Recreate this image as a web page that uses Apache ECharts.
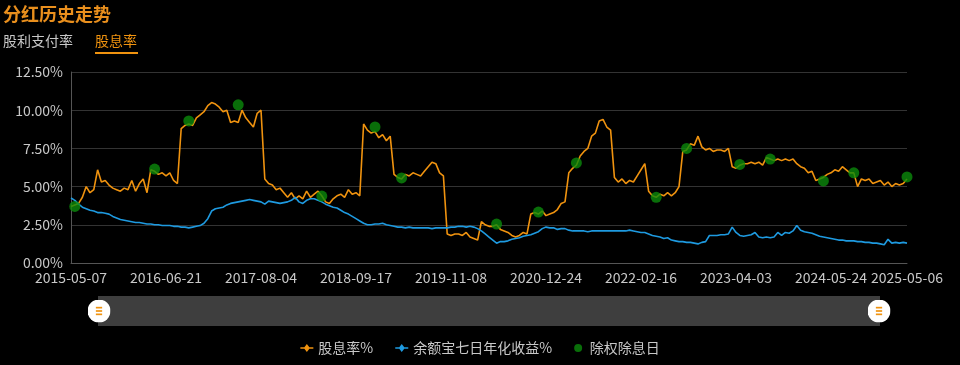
<!DOCTYPE html>
<html>
<head>
<meta charset="utf-8">
<script src="https://cdn.jsdelivr.net/npm/echarts@6/dist/echarts.min.js"></script>
<style>
html,body{margin:0;padding:0;background:#000;}
#chart{width:960px;height:365px;}
</style>
</head>
<body>
<div id="chart"></div>
<script>
// x-axis tick labels (one every 25 sampled points; last = final point)
const tickLabels = ['2015-05-07','2016-06-21','2017-08-04','2018-09-17','2019-11-08','2020-12-24','2022-02-16','2023-04-03','2024-05-24','2025-05-06'];

// 股息率% sampled (221 points)
const dividendYield = [
3.7,3.8,3.9,4.3,5.0,4.6,4.8,6.1,5.3,5.4,
5.1,4.9,4.8,4.7,4.9,4.8,5.4,4.7,5.2,5.5,
4.6,6.1,6.0,5.8,5.9,5.7,5.9,5.4,5.2,8.8,
9.0,9.1,9.0,9.5,9.7,9.9,10.3,10.5,10.4,10.2,
9.9,10.0,9.2,9.3,9.2,10.0,9.5,9.2,8.9,9.8,
10.0,5.5,5.2,5.1,4.8,4.9,4.6,4.3,4.6,4.2,
4.4,4.2,4.7,4.3,4.5,4.7,4.4,4.0,3.9,4.2,
4.4,4.5,4.3,4.8,4.5,4.6,4.4,9.1,8.7,8.5,
8.6,8.2,8.4,8.0,8.3,5.8,5.6,5.5,5.8,5.7,
5.9,5.8,5.7,6.0,6.3,6.6,6.5,5.9,5.7,1.9,
1.8,1.9,1.9,1.8,2.0,1.7,1.6,1.5,2.7,2.5,
2.4,2.4,2.5,2.2,2.1,2.0,1.8,1.7,1.8,2.0,
1.9,3.2,3.3,3.2,3.4,3.1,3.2,3.3,3.5,3.9,
4.0,5.9,6.2,6.4,7.0,7.3,7.5,8.3,8.5,9.3,
9.4,8.9,8.7,5.6,5.3,5.5,5.2,5.4,5.3,5.7,
6.1,6.5,4.7,4.4,4.3,4.5,4.4,4.6,4.4,4.6,
5.0,7.3,7.4,7.8,7.7,8.3,7.6,7.4,7.5,7.3,
7.4,7.4,7.3,7.5,6.3,6.2,6.4,6.5,6.5,6.6,
6.5,6.6,6.4,6.9,6.8,6.7,6.8,6.7,6.8,6.7,
6.8,6.5,6.3,6.2,5.9,6.0,5.4,5.5,5.6,5.8,
5.9,6.1,6.0,6.3,6.1,5.9,5.9,5.0,5.5,5.4,
5.5,5.2,5.3,5.4,5.1,5.3,5.0,5.2,5.1,5.2,
5.5
];

// 余额宝七日年化收益% sampled (221 points)
const yuebaoYield = [
4.25,4.1,3.85,3.65,3.55,3.45,3.4,3.3,3.3,3.25,
3.2,3.05,2.95,2.85,2.8,2.75,2.7,2.65,2.65,2.6,
2.55,2.55,2.5,2.5,2.45,2.45,2.45,2.4,2.4,2.35,
2.35,2.3,2.35,2.4,2.45,2.6,2.9,3.4,3.55,3.6,
3.65,3.8,3.9,3.95,4.0,4.05,4.1,4.15,4.1,4.05,
4.0,3.85,4.05,4.0,3.95,3.9,3.95,4.0,4.1,4.3,
4.0,3.9,4.1,4.2,4.2,4.1,4.0,3.85,3.75,3.65,
3.6,3.45,3.3,3.2,3.05,2.9,2.75,2.6,2.5,2.5,
2.55,2.55,2.6,2.5,2.45,2.4,2.35,2.35,2.3,2.35,
2.3,2.3,2.3,2.3,2.3,2.25,2.3,2.3,2.3,2.3,
2.35,2.35,2.4,2.4,2.35,2.4,2.35,2.25,2.1,1.9,
1.7,1.5,1.3,1.4,1.4,1.45,1.55,1.6,1.65,1.75,
1.8,1.85,1.95,2.05,2.25,2.35,2.3,2.3,2.2,2.25,
2.25,2.15,2.1,2.1,2.1,2.1,2.05,2.1,2.1,2.1,
2.1,2.1,2.1,2.1,2.1,2.1,2.1,2.15,2.1,2.05,
2.0,2.0,1.9,1.8,1.75,1.7,1.6,1.65,1.5,1.45,
1.4,1.4,1.35,1.35,1.3,1.25,1.35,1.4,1.8,1.8,
1.8,1.85,1.85,1.9,2.35,2.0,1.8,1.75,1.8,1.85,
2.0,1.7,1.65,1.7,1.65,1.7,2.0,1.8,2.0,1.95,
2.1,2.45,2.15,2.05,2.0,1.95,1.85,1.75,1.7,1.65,
1.6,1.55,1.5,1.5,1.45,1.45,1.45,1.4,1.4,1.35,
1.35,1.3,1.3,1.25,1.2,1.55,1.3,1.35,1.3,1.35,
1.3
];

// 除权除息日: sample index and yield
const exDivIndex = [1,22,31,44,66,80,87,112,123,133,154,162,176,184,198,206,220];
const exDivValue = [3.7,6.15,9.3,10.35,4.38,8.9,5.57,2.55,3.33,6.55,4.3,7.5,6.45,6.8,5.37,5.9,5.63];

const yTicks = {min:0, max:12.5, interval:2.5};

const ORANGE = '#f0930f';
const BLUE = '#1e9ae0';
const GREEN = '#0b8a0b';
const FONT = '"Noto Sans CJK SC", sans-serif';

const lastIdx = dividendYield.length - 1;
const step = 25;

const handleSvg = "<svg xmlns='http://www.w3.org/2000/svg' width='22' height='22'><circle cx='11' cy='11' r='11' fill='white'/><g fill='%23f0930f'><rect x='8' y='7' width='6' height='1.6'/><rect x='8' y='10.2' width='6' height='1.6'/><rect x='8' y='13.4' width='6' height='1.6'/></g></svg>";
const lineIcon = 'path://M0,3.3 L4,3.3 L6.5,0 L9,3.3 L13,3.3 L13,4.7 L9,4.7 L6.5,8 L4,4.7 L0,4.7 Z';

const chart = echarts.init(document.getElementById('chart'));
chart.setOption({
  backgroundColor: '#000',
  animation: false,
  title: {
    text: '分红历史走势', left: 3, top: 5, padding: 0,
    textStyle: {color: '#e98f1d', fontSize: 18, fontWeight: 'bold', fontFamily: FONT}
  },
  graphic: [
    {type: 'text', left: 3, top: 34, style: {text: '股利支付率', fill: '#c8c8c8', font: '14px "Noto Sans CJK SC"'}},
    {type: 'text', left: 95, top: 34, style: {text: '股息率', fill: ORANGE, font: '14px "Noto Sans CJK SC"'}},
    {type: 'rect', left: 95, top: 52, shape: {width: 43, height: 2}, style: {fill: ORANGE}}
  ],
  grid: {left: 71, right: 53, top: 72, bottom: 102},
  xAxis: {
    type: 'value', min: 0, max: lastIdx, interval: step,
    axisLine: {show: true, lineStyle: {color: '#555'}},
    axisTick: {show: false},
    splitLine: {show: false},
    axisLabel: {
      color: '#c8c8c8', fontSize: 14, margin: 8, fontFamily: FONT,
      formatter: function (v) {
        if (v === lastIdx) return tickLabels[tickLabels.length - 1];
        const k = v / step;
        return (Number.isInteger(k) && k < tickLabels.length - 1) ? tickLabels[k] : '';
      }
    }
  },
  yAxis: {
    type: 'value', min: yTicks.min, max: yTicks.max, interval: yTicks.interval,
    axisLine: {show: true, lineStyle: {color: '#555'}},
    axisTick: {show: false},
    splitLine: {lineStyle: {color: '#333'}},
    axisLabel: {
      color: '#c8c8c8', fontSize: 14, fontFamily: FONT,
      formatter: v => v.toFixed(2) + '%'
    }
  },
  dataZoom: [{
    type: 'slider', xAxisIndex: 0, start: 0, end: 100,
    left: 97, right: 81, top: 296, height: 30,
    backgroundColor: '#3c3c3c', fillerColor: 'rgba(64,64,64,0.6)', borderColor: 'transparent',
    showDataShadow: false, showDetail: false, brushSelect: false, moveHandleSize: 0,
    handleIcon: 'image://data:image/svg+xml;utf8,' + handleSvg,
    handleSize: 23,
    filterMode: 'none'
  }],
  legend: {
    bottom: 5, left: 'center', itemWidth: 13, itemHeight: 8, itemGap: 22,
    textStyle: {color: '#c8c8c8', fontSize: 14, fontFamily: FONT},
    data: [
      {name: '股息率%', icon: lineIcon},
      {name: '余额宝七日年化收益%', icon: lineIcon},
      {name: '除权除息日', icon: 'circle', itemStyle: {color: GREEN}}
    ]
  },
  series: [
    {
      name: '股息率%', type: 'line', showSymbol: false,
      data: dividendYield.map((v, i) => [i, v]),
      lineStyle: {color: ORANGE, width: 1.6}, itemStyle: {color: ORANGE}
    },
    {
      name: '余额宝七日年化收益%', type: 'line', showSymbol: false,
      data: yuebaoYield.map((v, i) => [i, v]),
      lineStyle: {color: BLUE, width: 1.6}, itemStyle: {color: BLUE}
    },
    {
      name: '除权除息日', type: 'scatter', symbolSize: 11,
      data: exDivIndex.map((x, k) => [x, exDivValue[k]]),
      itemStyle: {color: GREEN}, z: 5
    }
  ]
});
</script>
</body>
</html>
